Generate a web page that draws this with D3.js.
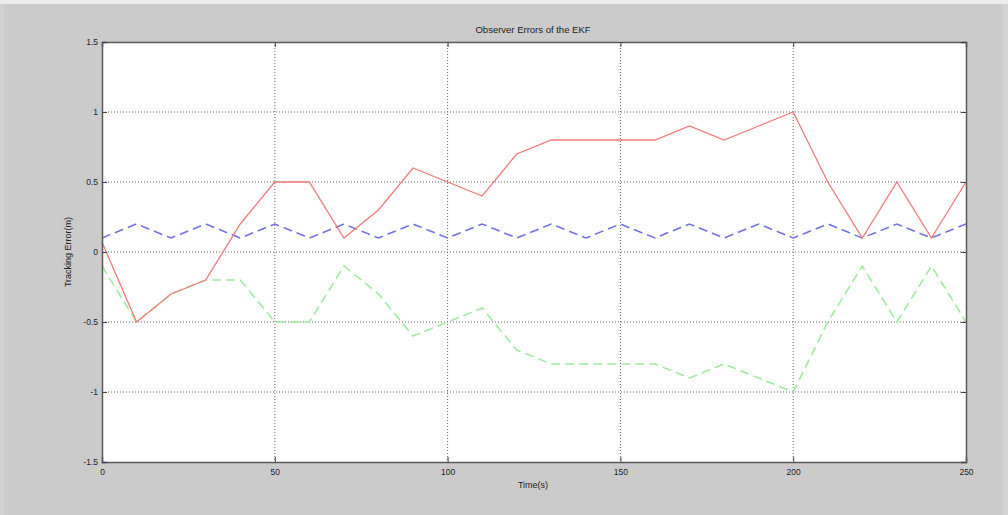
<!DOCTYPE html>
<html><head><meta charset="utf-8">
<script src="https://cdn.jsdelivr.net/npm/d3@7"></script>
<style>body{margin:0;background:#cbcbcb;overflow:hidden}</style>
</head><body>
<svg id="c" width="1008" height="515"></svg>
<script>
const times = [0,10,20,30,40,50,60,70,80,90,100,110,120,130,140,150,160,170,180,190,200,210,220,230,240,250];
const redErr = [0.07,-0.5,-0.3,-0.2,0.2,0.5,0.5,0.1,0.3,0.6,0.5,0.4,0.7,0.8,0.8,0.8,0.8,0.9,0.8,0.9,1.0,0.5,0.1,0.5,0.1,0.5];
const blueErr = [0.1,0.2,0.1,0.2,0.1,0.2,0.1,0.2,0.1,0.2,0.1,0.2,0.1,0.2,0.1,0.2,0.1,0.2,0.1,0.2,0.1,0.2,0.1,0.2,0.1,0.2];
const greenErr = [-0.1,-0.5,-0.3,-0.2,-0.2,-0.5,-0.5,-0.1,-0.3,-0.6,-0.5,-0.4,-0.7,-0.8,-0.8,-0.8,-0.8,-0.9,-0.8,-0.9,-1.0,-0.5,-0.1,-0.5,-0.1,-0.5];
const xTicks = [0,50,100,150,200,250];
const yTicks = [-1.5,-1,-0.5,0,0.5,1,1.5];
const title = "Observer Errors of the EKF";
const xLabel = "Time(s)";
const yLabel = "Tracking Error(m)";

const svg = d3.select("#c");
svg.append("rect").attr("x",0).attr("y",0).attr("width",1008).attr("height",515).attr("fill","#cbcbcb");
svg.append("rect").attr("x",0).attr("y",0).attr("width",1008).attr("height",4).attr("fill","#ececec");
svg.append("rect").attr("x",0).attr("y",4).attr("width",4).attr("height",511).attr("fill","#d1d1d1");
svg.append("rect").attr("x",1003).attr("y",4).attr("width",5).attr("height",511).attr("fill","#d3d3d3");

const L=102, T=42, W=864, H=420;
const x = d3.scaleLinear().domain([0,250]).range([L,L+W]);
const y = d3.scaleLinear().domain([-1.5,1.5]).range([T+H,T]);

svg.append("rect").attr("x",L).attr("y",T).attr("width",W).attr("height",H).attr("fill","#fff");

const g = svg.append("g");
g.selectAll(".vg").data(xTicks.slice(1,-1)).join("line")
 .attr("x1",d=>x(d)).attr("x2",d=>x(d)).attr("y1",T).attr("y2",T+H)
 .attr("stroke","#666").attr("stroke-width",1).attr("stroke-dasharray","1,2");
g.selectAll(".hg").data(yTicks.slice(1,-1)).join("line")
 .attr("y1",d=>y(d)).attr("y2",d=>y(d)).attr("x1",L).attr("x2",L+W)
 .attr("stroke","#666").attr("stroke-width",1).attr("stroke-dasharray","1,2");

const line = (vals) => d3.line().x((d,i)=>x(times[i])).y(d=>y(d))(vals);
svg.append("path").attr("d",line(greenErr)).attr("fill","none").attr("stroke","#a0eaa0").attr("stroke-width",1.6).attr("stroke-dasharray","9,5");
svg.append("path").attr("d",line(blueErr)).attr("fill","none").attr("stroke","#7272e0").attr("stroke-width",1.6).attr("stroke-dasharray","9,5");
svg.append("path").attr("d",line(redErr)).attr("fill","none").attr("stroke","#f07a7a").attr("stroke-width",1.3);

const fs = "Liberation Sans, Arial, sans-serif";
const xa = svg.append("g").attr("transform",`translate(0,${T+H})`)
 .call(d3.axisBottom(x).tickValues(xTicks).tickSize(-5).tickPadding(7).tickFormat(d3.format("d")));
const xt = svg.append("g").attr("transform",`translate(0,${T})`)
 .call(d3.axisTop(x).tickValues(xTicks).tickSize(-5).tickFormat(""));
const ya = svg.append("g").attr("transform",`translate(${L},0)`)
 .call(d3.axisLeft(y).tickValues(yTicks).tickSize(-5).tickPadding(4).tickFormat(d=>String(d)));
const yr = svg.append("g").attr("transform",`translate(${L+W},0)`)
 .call(d3.axisRight(y).tickValues(yTicks).tickSize(-5).tickFormat(""));
[xa,xt,ya,yr].forEach(a=>{
  a.select(".domain").attr("stroke","#5a5a5a").attr("stroke-width",1.5);
  a.selectAll(".tick line").attr("stroke","#444");
  a.selectAll("text").attr("font-family",fs).attr("font-size",8.5).attr("fill","#222");
});

svg.append("text").attr("x",533).attr("y",33).attr("text-anchor","middle")
 .attr("font-family",fs).attr("font-size",9.5).attr("fill","#222").text(title);
svg.append("text").attr("x",533).attr("y",488).attr("text-anchor","middle")
 .attr("font-family",fs).attr("font-size",9).attr("fill","#222").text(xLabel);
svg.append("text").attr("transform","translate(71,252) rotate(-90)").attr("text-anchor","middle")
 .attr("font-family",fs).attr("font-size",9).attr("fill","#222").text(yLabel);
</script>
</body></html>
